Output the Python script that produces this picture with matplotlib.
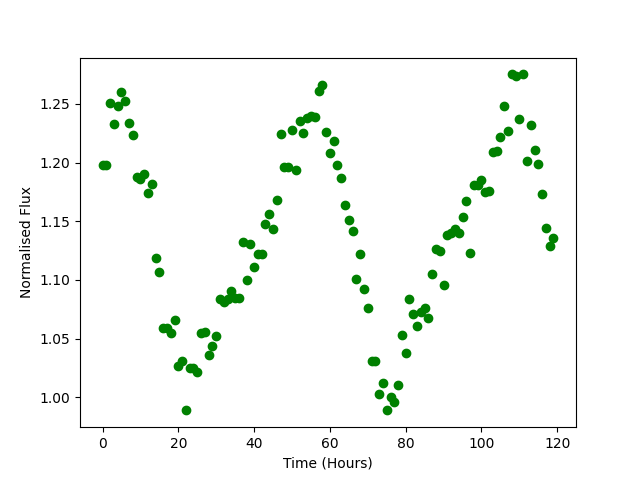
import matplotlib
matplotlib.use("Agg")
import matplotlib.pyplot as plt
import numpy as np

# hourly samples, 0..119
time_hours = np.arange(120)

flux = [
    1.198, 1.198, 1.251, 1.233, 1.248, 1.260, 1.252, 1.234, 1.223, 1.188,
    1.186, 1.190, 1.174, 1.182, 1.119, 1.107, 1.059, 1.059, 1.055, 1.066,
    1.027, 1.031, 0.989, 1.025, 1.025, 1.022, 1.055, 1.056, 1.036, 1.044,
    1.052, 1.084, 1.081, 1.084, 1.091, 1.085, 1.085, 1.132, 1.100, 1.131,
    1.111, 1.122, 1.122, 1.148, 1.156, 1.143, 1.168, 1.224, 1.196, 1.196,
    1.228, 1.194, 1.235, 1.225, 1.238, 1.240, 1.239, 1.261, 1.266, 1.226,
    1.208, 1.218, 1.198, 1.187, 1.164, 1.151, 1.142, 1.101, 1.122, 1.092,
    1.076, 1.031, 1.031, 1.003, 1.012, 0.989, 1.000, 0.996, 1.011, 1.053,
    1.038, 1.084, 1.071, 1.061, 1.073, 1.076, 1.068, 1.105, 1.126, 1.125,
    1.096, 1.138, 1.140, 1.143, 1.140, 1.154, 1.167, 1.123, 1.181, 1.181,
    1.185, 1.175, 1.176, 1.209, 1.210, 1.222, 1.248, 1.227, 1.275, 1.274,
    1.237, 1.275, 1.201, 1.232, 1.211, 1.199, 1.173, 1.144, 1.129, 1.136,
]

fig, ax = plt.subplots(figsize=(6.4, 4.8), dpi=100)

ax.plot(time_hours, flux, 'o', color='green')

ax.set_xlabel("Time (Hours)")
ax.set_ylabel("Normalised Flux")

fig.savefig("out.png")
